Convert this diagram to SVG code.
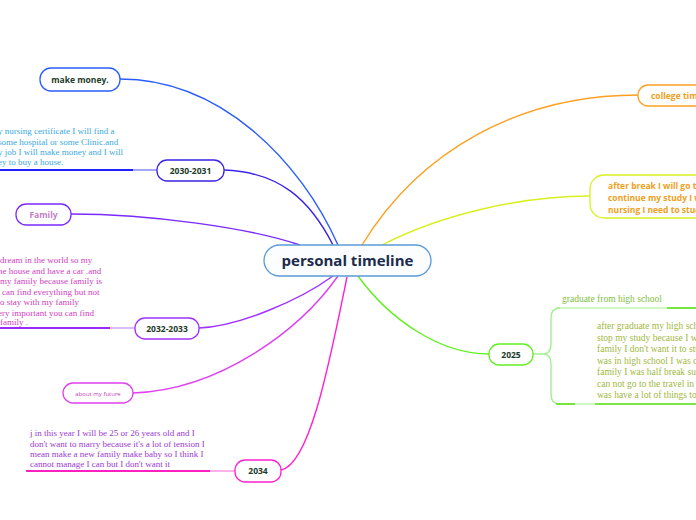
<svg xmlns="http://www.w3.org/2000/svg" width="696" height="520" viewBox="0 0 696 520">
<style>
.node{fill:#fff;stroke-width:1.3}
.lbl{font-family:"Open Sans","Liberation Sans",sans-serif;font-weight:bold;font-size:8.5px;text-anchor:middle}
.note{font-family:"Liberation Serif","DejaVu Serif",serif;font-size:9px}
.con{fill:none;stroke-width:1.4}
</style>
<rect width="696" height="520" fill="#fff"/>
<g id="connectors">
<path class="con" d="M338,245 C300,160 220,79 120,79" stroke="#2a5cff" stroke-width="1.6"/>
<path class="con" d="M333,245 C310,200 280,172 224,170" stroke="#3a22e8"/>
<path class="con" d="M300,245 C250,228 150,214 71,214" stroke="#7a2aff"/>
<path class="con" d="M333,276 C300,300 240,326 199,328" stroke="#a030ff"/>
<path class="con" d="M338,276 C300,330 220,390 133,393" stroke="#e040f0"/>
<path class="con" d="M347,277 C330,360 310,465 281,470" stroke="#ff20d0"/>
<path class="con" d="M362,245 C420,150 520,95 638,95" stroke="#ffa020"/>
<path class="con" d="M382,245 C440,215 520,196 590,196" stroke="#d8f020"/>
<path class="con" d="M358,276 C390,320 440,354 489,354" stroke="#60f020"/>
<path class="con" d="M133,170 H157" stroke="#8080ff" stroke-width="1"/>
<path class="con" d="M110,328 H135" stroke="#d0a0ff" stroke-width="1"/>
<path class="con" d="M210,471 H235" stroke="#ff90e0" stroke-width="1"/>
<path class="con" d="M533,354 H543 C549,354 551,350 551,344 V318 C551,311 554,308 560,308 M543,354 C549,354 551,358 551,364 V394 C551,401 554,404 560,404" stroke="#a0f090" stroke-width="1"/>
</g>
<g id="center">
<rect x="264" y="245" width="167" height="31" rx="15.5" fill="#fbfdff" stroke="#5a9ad8" stroke-width="1.3"/>
<text x="347.5" y="266" font-family="'Open Sans','Liberation Sans',sans-serif" font-weight="bold" font-size="15" fill="#1c2b4b" text-anchor="middle">personal timeline</text>
</g>
<g id="make-money">
<rect class="node" x="40" y="68" width="80" height="23" rx="11" stroke="#2a5cff"/>
<text class="lbl" x="80" y="82.5" fill="#1a3a2a">make money.</text>
</g>
<g id="y2030">
<rect class="node" x="157" y="160" width="67" height="21" rx="10" stroke="#3a22e8"/>
<text class="lbl" x="190.5" y="173.5" fill="#1a3a2a">2030-2031</text>
<g class="note" fill="#3aa8e0">
<text x="-2" y="134">y nursing certificate I will find a</text>
<text x="-2" y="144.5">some hospital or some Clinic.and</text>
<text x="-2" y="155">y job I will make money and I will</text>
<text x="-2" y="165">ey to buy a house.</text>
</g>
<line x1="0" y1="170" x2="133" y2="170" stroke="#2020ff" stroke-width="2"/>
</g>
<g id="family">
<rect class="node" x="16" y="204" width="55" height="21" rx="10" stroke="#7a2aff"/>
<text class="lbl" x="43.5" y="217.5" fill="#c080c8">Family</text>
</g>
<g id="y2032">
<rect class="node" x="135" y="318" width="64" height="21" rx="10" stroke="#a030ff"/>
<text class="lbl" x="167" y="331.5" fill="#1a3a2a">2032-2033</text>
<g class="note" fill="#d040c0">
<text x="0" y="263">dream in the world so my</text>
<text x="-2" y="273.5">he house and have a car .and</text>
<text x="0" y="284">my family because family is</text>
<text x="2" y="294.5">can find everything but not</text>
<text x="0" y="305">o stay with my family</text>
<text x="-2" y="315.5">ery important you can find</text>
<text x="0" y="325">family .</text>
</g>
<line x1="0" y1="328" x2="110" y2="328" stroke="#9a2aff" stroke-width="2"/>
</g>
<g id="future">
<rect class="node" x="63" y="383" width="70" height="20" rx="10" stroke="#e040f0"/>
<text class="lbl" x="98" y="396" fill="#c040c0" style="font-size:6px;font-weight:normal">about my future</text>
</g>
<g id="y2034">
<rect class="node" x="235" y="460" width="46" height="22" rx="10" stroke="#ff20d0"/>
<text class="lbl" x="258" y="474" fill="#1a3a2a">2034</text>
<g class="note" fill="#9a3ad0">
<text x="30" y="436">j in this year I will be 25 or 26 years old and I</text>
<text x="30" y="446.5">don't want to marry because it's a lot of tension I</text>
<text x="30" y="457">mean make a new family make baby so I think I</text>
<text x="30" y="467">cannot manage I can but I don't want it</text>
</g>
<line x1="26" y1="471" x2="210" y2="471" stroke="#ff20c0" stroke-width="2"/>
</g>
<g id="college">
<rect class="node" x="638" y="85" width="70" height="21" rx="10" stroke="#ffa020"/>
<text class="lbl" x="651" y="98.5" fill="#f0a020" style="text-anchor:start">college tim</text>
</g>
<g id="after-break">
<rect class="node" x="590" y="175" width="120" height="43" rx="14" stroke="#d8f020"/>
<g class="lbl" fill="#f0a020" style="text-anchor:start">
<text x="608" y="189">after break I will go to</text>
<text x="608" y="201">continue my study I w</text>
<text x="608" y="213">nursing I need to stud</text>
</g>
</g>
<g id="y2025">
<rect class="node" x="489" y="344" width="44" height="21" rx="10" stroke="#60f020"/>
<text class="lbl" x="511" y="357.5" fill="#1a3a2a">2025</text>
</g>
<g id="graduate">
<text class="note" x="562" y="302" fill="#80c040" style="font-size:9.5px">graduate from high school</text>
<line x1="556" y1="308" x2="696" y2="308" stroke="#a0f080" stroke-width="1"/>
<line x1="667" y1="308" x2="696" y2="308" stroke="#60e020" stroke-width="1.6"/>
</g>
<g id="after-graduate">
<g class="note" fill="#a0b840" style="font-size:9.5px">
<text x="597" y="329">after graduate my high scho</text>
<text x="597" y="340.5">stop my study because I wa</text>
<text x="597" y="352">family I don't want it to stu</text>
<text x="597" y="363.5">was in high school I was ca</text>
<text x="597" y="375">family I was half break sum</text>
<text x="597" y="386.5">can not go to the travel in 2</text>
<text x="597" y="398">was have a lot of things to d</text>
</g>
<line x1="556" y1="404" x2="696" y2="404" stroke="#a0f080" stroke-width="1"/>
<line x1="556" y1="404" x2="575" y2="404" stroke="#60e020" stroke-width="1.6"/>
<line x1="595" y1="404" x2="696" y2="404" stroke="#60e020" stroke-width="1.6"/>
</g>
</svg>
